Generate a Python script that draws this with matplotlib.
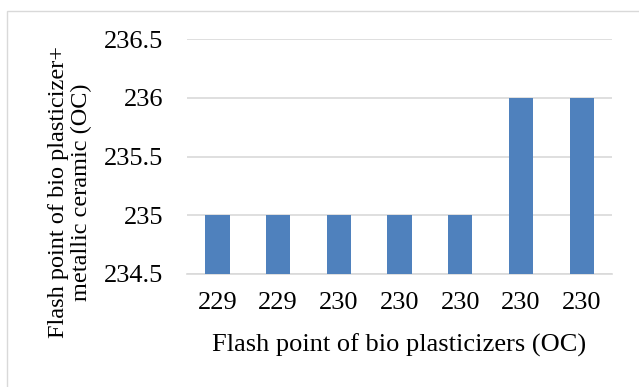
import matplotlib
matplotlib.use("Agg")
import matplotlib.pyplot as plt
from matplotlib.patches import Rectangle

# flash point of the bio plasticizer (category labels) vs. with metallic ceramic
plasticizer_fp = ["229", "229", "230", "230", "230", "230", "230"]
blend_fp = [235, 235, 235, 235, 235, 236, 236]
y_ticks = [234.5, 235, 235.5, 236, 236.5]

plt.rcParams["font.family"] = ["Liberation Serif", "DejaVu Serif"]

W, H = 639, 387
fig = plt.figure(figsize=(W / 100, H / 100), dpi=100)
ax = fig.add_axes([187 / W, 1 - 274 / H, (612 - 187) / W, (274 - 39) / H])

x = range(len(blend_fp))
base = y_ticks[0]
ax.bar(x, [v - base for v in blend_fp], bottom=base, width=0.4,
       color="#4F81BD", zorder=3)

ax.set_xlim(-0.5, len(blend_fp) - 0.5)
ax.set_ylim(y_ticks[0], y_ticks[-1])
ax.set_yticks(y_ticks)
ax.set_yticklabels([f"{t:g}" for t in y_ticks])
ax.set_xticks(list(x))
ax.set_xticklabels(plasticizer_fp)
ax.tick_params(length=0, labelsize=19)
ax.tick_params(axis="x", pad=13)
ax.tick_params(axis="y", pad=17)
ax.grid(axis="y", color="#D9D9D9", linewidth=1.2, zorder=0)
for side in ("top", "right", "left"):
    ax.spines[side].set_visible(False)
ax.spines["bottom"].set_color("#D9D9D9")
ax.spines["bottom"].set_linewidth(1.2)

ax.set_xlabel("Flash point of bio plasticizers (OC)", fontsize=19, va="baseline")
ax.xaxis.set_label_coords(0.5, (274 - 352) / 235)
fig.text(70 / W, 1 - 192 / H, "Flash point of bio plasticizer+\nmetallic ceramic (OC)",
         rotation=90, ha="center", va="center", fontsize=17.5, linespacing=1.15)

# chart area border (only top and left edges fall inside the canvas)
fig.patches.append(Rectangle((7 / W, -0.1), 1.2, 1.1 - 10.5 / H,
                             transform=fig.transFigure, fill=False,
                             edgecolor="#D9D9D9", linewidth=1))

fig.savefig("out.png", dpi=100)
